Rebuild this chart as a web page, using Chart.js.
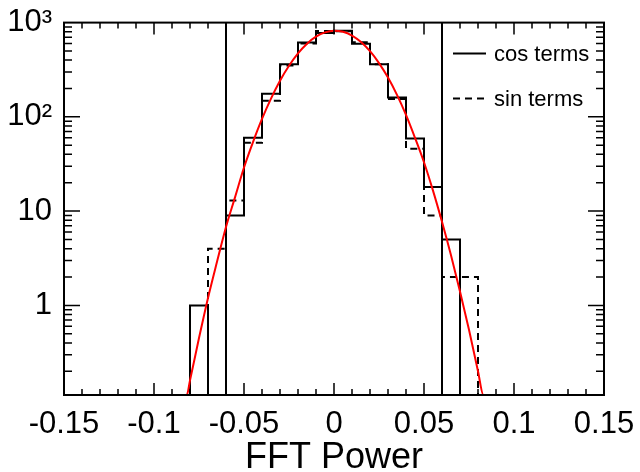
<!DOCTYPE html>
<html>
<head>
<meta charset="utf-8">
<script src="https://cdn.jsdelivr.net/npm/chart.js@4.4.1/dist/chart.umd.min.js"></script>
<style>
  html, body { margin: 0; padding: 0; background: #fff; }
  #wrap { width: 640px; height: 472px; }
</style>
</head>
<body>
<div id="wrap"><canvas id="fftChart"></canvas></div>
<script>
// histogram bins, low edges (width 0.01)
const binLow = [-0.15, -0.14, -0.13, -0.12, -0.11, -0.10, -0.09, -0.08, -0.07, -0.06,
                -0.05, -0.04, -0.03, -0.02, -0.01, 0.00, 0.01, 0.02, 0.03, 0.04,
                0.05, 0.06, 0.07, 0.08, 0.09, 0.10, 0.11, 0.12, 0.13, 0.14];
const binHigh = 0.15;

const cosCounts = [0, 0, 0, 0, 0, 0, 0, 1, 0, 9,
                   60, 176, 362, 614, 775, 821, 598, 362, 160, 59,
                   18, 5, 0, 0, 0, 0, 0, 0, 0, 0];
const sinCounts = [0, 0, 0, 0, 0, 0, 0, 0, 4, 13,
                   53, 148, 351, 600, 815, 810, 620, 362, 155, 46,
                   9, 2, 2, 0, 0, 0, 0, 0, 0, 0];

// gaussian fit
const fitX = [-0.15, -0.0818, -0.08, -0.075, -0.07, -0.065, -0.06, -0.055, -0.05, -0.045,
              -0.04, -0.035, -0.03, -0.025, -0.02, -0.015, -0.01, -0.005, 0, 0.005,
              0.01, 0.015, 0.02, 0.025, 0.03, 0.035, 0.04, 0.045, 0.05, 0.055,
              0.06, 0.065, 0.07, 0.075, 0.08, 0.083, 0.15];
const fitY = [0.112, 0.112, 0.16, 0.45, 1.2, 2.9, 6.8, 14, 29, 54,
              95, 156, 241, 348, 472, 598, 709, 788, 820, 798,
              728, 622, 497, 372, 261, 171, 105, 60, 33, 16.5,
              7.7, 3.4, 1.4, 0.55, 0.2, 0.112, 0.112];

// cut lines
const cutLines = [-0.06, 0.06];

const xMin = -0.15, xMax = 0.15;
const yMin = 0.112, yMax = 1000;
const yLabels = {1: '1', 10: '10', 100: '10²', 1000: '10³'};
const FONT = "'Liberation Sans', Arial, Helvetica, sans-serif";

function histPoints(counts) {
    let pts = binLow.map((x, i) => ({x: x, y: counts[i] > 0 ? counts[i] : yMin}));
    let last = counts[counts.length - 1];
    pts.push({x: binHigh, y: last > 0 ? last : yMin});
    return pts;
}

let datasets = [
    {
        data: fitX.map((x, i) => ({x: x, y: fitY[i]})),
        borderColor: '#ff0000', borderWidth: 2, pointRadius: 0,
        cubicInterpolationMode: 'monotone', order: 0
    },
    {
        label: 'cos terms',
        data: histPoints(cosCounts),
        borderColor: '#000', borderWidth: 2, pointRadius: 0,
        stepped: 'before', order: 1
    },
    {
        label: 'sin terms',
        data: histPoints(sinCounts),
        borderColor: '#000', borderWidth: 2, borderDash: [7, 5], pointRadius: 0,
        stepped: 'before', order: 2
    }
];
cutLines.forEach(c => {
    datasets.push({
        data: [{x: c, y: yMin}, {x: c, y: yMax}],
        borderColor: '#000', borderWidth: 2, pointRadius: 0, order: 3
    });
});

// ROOT style frame with inward ticks on all sides
const rootFrame = {
    id: 'rootFrame',
    afterDraw(chart) {
        const ctx = chart.ctx;
        const a = chart.chartArea;
        const xs = chart.scales.x, ys = chart.scales.y;
        ctx.save();
        ctx.strokeStyle = '#000';
        ctx.lineWidth = 1.5;
        ctx.beginPath();
        for (let i = 0; i <= 30; i++) {
            let px = xs.getPixelForValue(xMin + i * (xMax - xMin) / 30);
            let len = i % 5 === 0 ? 12 : 6;
            ctx.moveTo(px, a.bottom); ctx.lineTo(px, a.bottom - len);
            ctx.moveTo(px, a.top); ctx.lineTo(px, a.top + len);
        }
        [0.1, 1, 10, 100].forEach(dec => {
            for (let k = 1; k <= 9; k++) {
                let v = k * dec;
                if (v < yMin || v > yMax) continue;
                let py = ys.getPixelForValue(v);
                let len = k === 1 ? 16 : 8;
                ctx.moveTo(a.left, py); ctx.lineTo(a.left + len, py);
                ctx.moveTo(a.right, py); ctx.lineTo(a.right - len, py);
            }
        });
        ctx.stroke();
        ctx.lineWidth = 2;
        ctx.strokeRect(a.left, a.top, a.right - a.left, a.bottom - a.top);
        ctx.restore();
    }
};

// legend in the top right corner of the frame
const rootLegend = {
    id: 'rootLegend',
    afterDraw(chart) {
        const ctx = chart.ctx;
        const a = chart.chartArea;
        let row = 0;
        ctx.save();
        ctx.font = '22px ' + FONT;
        ctx.fillStyle = '#000';
        ctx.textBaseline = 'middle';
        chart.data.datasets.forEach(ds => {
            if (!ds.label) return;
            let y = a.top + 31 + row * 45;
            let x0 = a.right - 151;
            ctx.strokeStyle = ds.borderColor;
            ctx.lineWidth = 2;
            ctx.setLineDash(ds.borderDash || []);
            ctx.beginPath();
            ctx.moveTo(x0, y); ctx.lineTo(x0 + 33, y);
            ctx.stroke();
            ctx.setLineDash([]);
            ctx.fillText(ds.label, x0 + 41, y + 1);
            row++;
        });
        ctx.restore();
    }
};

new Chart(document.getElementById('fftChart'), {
    type: 'line',
    data: {datasets: datasets},
    options: {
        responsive: true,
        maintainAspectRatio: false,
        animation: false,
        layout: {padding: {top: 20, right: 36, left: 0, bottom: 0}},
        plugins: {legend: {display: false}, tooltip: {enabled: false}},
        scales: {
            x: {
                type: 'linear', min: xMin, max: xMax,
                grid: {display: false}, border: {display: false},
                ticks: {
                    stepSize: 0.05, color: '#000', padding: 3, maxRotation: 0,
                    font: {family: FONT, size: 31},
                    callback: v => String(+v.toFixed(2))
                },
                title: {
                    display: true, text: 'FFT Power', color: '#000',
                    font: {family: FONT, size: 36, lineHeight: 0.8},
                    padding: {top: 0, bottom: 0}
                },
                afterFit: s => { s.height = 77; }
            },
            y: {
                type: 'logarithmic', min: yMin, max: yMax,
                grid: {display: false}, border: {display: false},
                afterBuildTicks: s => { s.ticks = [1, 10, 100, 1000].map(v => ({value: v, major: true})); },
                ticks: {
                    color: '#000', padding: 4,
                    font: {family: FONT, size: 31},
                    callback: v => yLabels[v] || ''
                },
                afterFit: s => { s.width = 64; }
            }
        }
    },
    plugins: [rootFrame, rootLegend]
});
</script>
</body>
</html>
